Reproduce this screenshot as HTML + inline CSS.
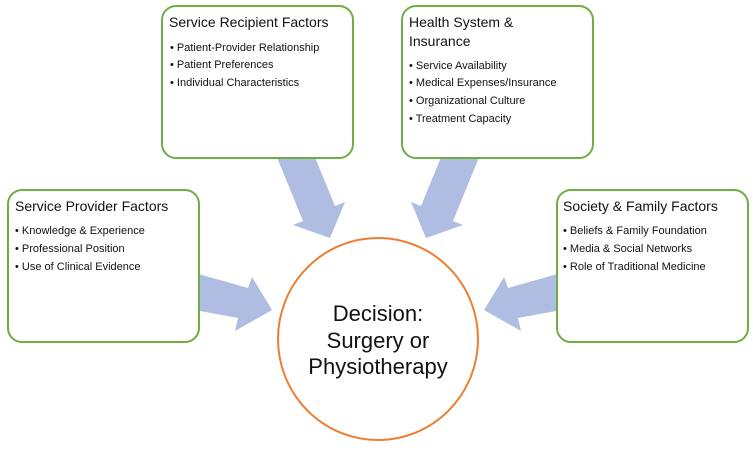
<!DOCTYPE html>
<html><head><meta charset="utf-8"><style>
body{margin:0;background:#fff;width:753px;height:447px;overflow:hidden}
svg text{font-family:"Liberation Sans",sans-serif;fill:#111}
.t{font-size:14px}.b{font-size:11px}.c{font-size:22px}
</style></head><body>
<svg width="753" height="447" viewBox="0 0 753 447" xmlns="http://www.w3.org/2000/svg">
<g fill="#b0bde2">
<polygon points="274,150 312,150 335,206 345,202 330,238 293,225 303,221"/>
<polygon points="482,150 444,150 421,206 411,202 426,238 463,225 453,221"/>
<polygon points="195,273 248,288 252,277 272,310 235,331 238,318 195,310"/>
<polygon points="561,273 508,288 504,277 484,310 521,331 518,318 561,310"/>
</g>
<g fill="#fff" stroke="#70ad47" stroke-width="2">
<rect x="162" y="6" width="191" height="152" rx="14"/>
<rect x="402" y="6" width="191" height="152" rx="14"/>
<rect x="8" y="190" width="191" height="152" rx="14"/>
<rect x="557" y="190" width="191" height="152" rx="14"/>
</g>
<ellipse cx="378" cy="339" rx="100" ry="101" fill="#fff" stroke="#ed7d31" stroke-width="2"/>
<text class="t" x="169" y="27">Service Recipient Factors</text>
<text class="b" x="170" y="51">• Patient-Provider Relationship</text>
<text class="b" x="170" y="68">• Patient Preferences</text>
<text class="b" x="170" y="86">• Individual Characteristics</text>
<text class="t" x="409" y="27">Health System &amp;</text>
<text class="t" x="409" y="46">Insurance</text>
<text class="b" x="409" y="69">• Service Availability</text>
<text class="b" x="409" y="86">• Medical Expenses/Insurance</text>
<text class="b" x="409" y="104">• Organizational Culture</text>
<text class="b" x="409" y="122">• Treatment Capacity</text>
<text class="t" x="15" y="211">Service Provider Factors</text>
<text class="b" x="15" y="234">• Knowledge &amp; Experience</text>
<text class="b" x="15" y="252">• Professional Position</text>
<text class="b" x="15" y="270">• Use of Clinical Evidence</text>
<text class="t" x="563" y="211">Society &amp; Family Factors</text>
<text class="b" x="563" y="234">• Beliefs &amp; Family Foundation</text>
<text class="b" x="563" y="252">• Media &amp; Social Networks</text>
<text class="b" x="563" y="270">• Role of Traditional Medicine</text>
<text class="c" x="378" y="321" text-anchor="middle">Decision:</text>
<text class="c" x="378" y="348" text-anchor="middle">Surgery or</text>
<text class="c" x="378" y="374" text-anchor="middle">Physiotherapy</text>
</svg>
</body></html>
